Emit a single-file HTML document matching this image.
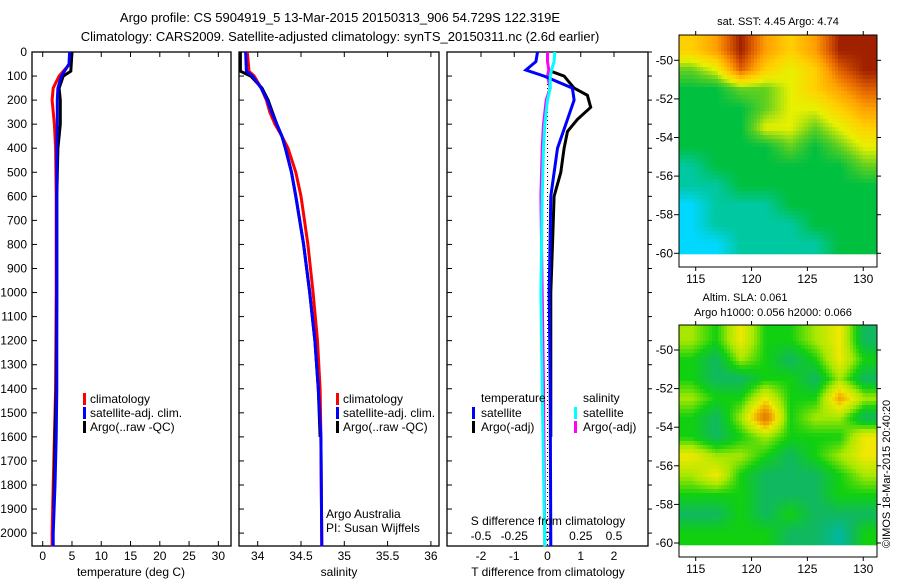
<!DOCTYPE html>
<html><head><meta charset="utf-8"><style>
body{margin:0;background:#fff;}
svg{display:block;font-family:"Liberation Sans",sans-serif;}
</style></head><body>
<svg id="fig" width="900" height="580" viewBox="0 0 900 580">
<text x="340" y="22" font-size="13" text-anchor="middle">Argo profile: CS 5904919_5 13-Mar-2015 20150313_906 54.729S 122.319E</text>
<text x="340" y="41" font-size="13" text-anchor="middle">Climatology: CARS2009. Satellite-adjusted climatology: synTS_20150311.nc (2.6d earlier)</text>
<text x="778" y="25" font-size="11" text-anchor="middle">sat. SST: 4.45 Argo: 4.74</text>
<text x="745" y="301" font-size="11" text-anchor="middle">Altim. SLA: 0.061</text>
<text x="773" y="316" font-size="11" text-anchor="middle">Argo h1000: 0.056 h2000: 0.066</text>
<text transform="translate(890,548) rotate(-90)" font-size="11">©IMOS 18-Mar-2015 20:40:20</text>
<g id="plots"></g>
</svg>
<script>
// ---- data ----
const tDepth = [0,50,100,150,200,300,400,600,1000,1400,1600,1800,2000,2055];
const tClim  = [4.8,4.6,2.8,1.8,1.6,2.0,2.2,2.3,2.3,2.2,2.0,1.8,1.6,1.6];
const tSat   = [4.6,4.5,3.2,2.6,2.5,2.5,2.4,2.4,2.4,2.4,2.3,2.1,1.8,1.8];
const aDepth = [0,80,100,150,200,300,400,600,1000,1400,1600,1900];
const tArgo  = [5.0,4.8,3.5,2.8,3.0,3.0,2.6,2.4,2.4,2.3,2.1,1.9];
const sDepth = [0,80,100,150,200,250,300,350,400,500,600,800,1000,1200,1400,1600,2055];
const sClim  = [33.88,33.9,33.96,34.04,34.1,34.14,34.2,34.28,34.35,34.44,34.5,34.58,34.64,34.69,34.72,34.73,34.74];
const sSat   = [33.86,33.87,33.94,34.04,34.11,34.16,34.22,34.28,34.32,34.39,34.44,34.53,34.6,34.66,34.7,34.73,34.74];
const sArgo  = [33.8,33.8,33.92,34.05,34.12,34.17,34.22,34.28,34.32,34.39,34.44,34.53,34.6,34.66,34.7,34.72];
const dDepth = [0,40,75,100,150,200,300,400,600,1000,1400,2055];
const dTSat  = [-0.3,-0.35,-0.65,-0.1,0.75,0.8,0.55,0.3,0.1,0.05,0.08,0.1];
const dDepthA= [80,100,150,180,230,280,330,400,500,600,800,1000,1600];
const dTArgo = [0.1,0.5,0.8,1.2,1.3,0.9,0.6,0.5,0.4,0.2,0.15,0.1,0.1];
const dSSat  = [0.055,0.05,0.03,0.02,0.02,0.0,-0.02,-0.03,-0.04,-0.05,-0.04,-0.02];
const dSArgo = [0.0,0.0,0.01,0.0,0.02,-0.01,-0.03,-0.04,-0.05,-0.04,-0.03,-0.02];
const depthTicks = [0,100,200,300,400,500,600,700,800,900,1000,1100,1200,1300,1400,1500,1600,1700,1800,1900,2000];
const tTicks = [0,5,10,15,20,25,30];
const sTicks = [34,34.5,35,35.5,36];
const sTickLabels = ["34","34.5","35","35.5","36"];
const dTTicks = [-2,-1,0,1,2];
const dSTicks = [-0.5,-0.25,0,0.25,0.5];
const dSTickLabels = ["-0.5","-0.25","0","0.25","0.5"];
const latTicks = [-50,-52,-54,-56,-58,-60];
const lonTicks = [115,120,125,130];
const sstGrid = [
 [7,8,10,8,7,8,10,10],[5,6,9,7,6,7,9,10],[4,4,5,5,6,7,8,9],[4,4,4,5,6,6,7,8],
 [4,4,4,6,6,5,6,7],[4,4,4,4,5,4,5,6],[3,4,4,4,4,4,4,5],[3,3,4,4,4,4,4,4],
 [2,3,3,3,4,4,4,4],[2,3,3,3,3,4,4,4],[2,2,3,3,3,3,4,4]];
const slaGrid = [
 [3,2,4,2,2,3,4,1],[2,1,3,2,1,2,4,2],[2,1,1,2,2,1,3,1],[3,2,2,4,2,2,5,3],
 [2,1,3,6,2,3,3,1],[2,1,2,3,2,2,2,4],[4,3,3,2,1,2,3,4],[3,4,2,1,1,1,2,3],
 [2,2,2,1,1,1,2,2],[1,1,2,1,2,1,1,1],[2,2,2,2,1,1,0,2]];
// ---- helpers ----
const NS="http://www.w3.org/2000/svg";
const root=document.getElementById('plots');
function mk(tag,attrs,parent){const e=document.createElementNS(NS,tag);for(const k in attrs)e.setAttribute(k,attrs[k]);(parent||root).appendChild(e);return e;}
const yD = d => 52 + d*0.24055;
const xT = v => 42.7 + v*5.855;
const xS = v => 257.7 + (v-34)*86.6;
const xDT = v => 547.5 + v*33.25;
const xDS = v => 547.5 + v*133;
function line(xs,ys,fx,col,name,w){
  const pts=xs.map((v,i)=>fx(v).toFixed(1)+','+yD(ys[i]).toFixed(1)).join(' ');
  const p=mk('polyline',{points:pts,fill:'none',stroke:col,'stroke-width':w||3});
  
  
}
function text(x,y,s,anchor,name,size){
  const t=mk('text',{x:x,y:y,'font-size':size||12,'text-anchor':anchor||'start'});
  t.textContent=s;
  
  
}
function frame(x0,x1,name){
  const r=mk('rect',{x:x0,y:52,width:x1-x0,height:494,fill:'none',stroke:'#000','stroke-width':1.3});
  
  
}
depthTicks.forEach(d=>{text(27,yD(d)+4,String(d),'end','depth-tick-label');
  [32,239,447].forEach(x0=>mk('line',{x1:x0,x2:x0+5,y1:yD(d),y2:yD(d),stroke:'#000'}));
  mk('line',{x1:648,x2:652,y1:yD(d),y2:yD(d),stroke:'#000'});});
// panel 1
frame(32,231,'temperature-panel');
tTicks.forEach(v=>{mk('line',{x1:xT(v),x2:xT(v),y1:52,y2:57,stroke:'#000'});mk('line',{x1:xT(v),x2:xT(v),y1:546,y2:541,stroke:'#000'});text(xT(v),560,String(v),'middle','temperature-tick-label');});
line(tClim,tDepth,xT,'#ff0000','temp-climatology-line');
line(tArgo,aDepth,xT,'#000000','temp-argo-line');
line(tSat,tDepth,xT,'#0000ff','temp-satellite-line');
text(131,576,'temperature (deg C)','middle','temperature-axis-title');
[['#ff0000','climatology'],['#0000ff','satellite-adj. clim.'],['#000000','Argo(..raw -QC)']].forEach((l,i)=>{
  mk('rect',{x:83,y:393+i*14,width:3,height:12,fill:l[0]});text(90,403+i*14,l[1],'start','temp-legend-entry');
  mk('rect',{x:336,y:393+i*14,width:3,height:12,fill:l[0]});text(343,403+i*14,l[1],'start','salinity-legend-entry');});
// panel 2
frame(239,439,'salinity-panel');
sTicks.forEach((v,i)=>{mk('line',{x1:xS(v),x2:xS(v),y1:52,y2:57,stroke:'#000'});mk('line',{x1:xS(v),x2:xS(v),y1:546,y2:541,stroke:'#000'});text(xS(v),560,sTickLabels[i],'middle','salinity-tick-label');});
line(sClim,sDepth,xS,'#ff0000','sal-climatology-line');
line(sArgo,sDepth.slice(0,sArgo.length),xS,'#000000','sal-argo-line');
line(sSat,sDepth,xS,'#0000ff','sal-satellite-line');
text(339,576,'salinity','middle','salinity-axis-title');
text(326,518,'Argo Australia','start','credit-line-1');
text(326,532,'PI: Susan Wijffels','start','credit-line-2');
// panel 3
frame(447,648,'difference-panel');
dTTicks.forEach(v=>{mk('line',{x1:xDT(v),x2:xDT(v),y1:52,y2:57,stroke:'#000'});text(xDT(v),560,String(v),'middle','t-diff-tick-label');});
dSTicks.forEach((v,i)=>text(xDS(v),540,dSTickLabels[i],'middle','s-diff-tick-label'));
mk('line',{x1:547.5,x2:547.5,y1:52,y2:546,stroke:'#000','stroke-dasharray':'1,3'});
line(dSArgo,dDepth,xDS,'#ff00ff','s-diff-argo-line');
line(dTArgo,dDepthA,xDT,'#000000','t-diff-argo-line');
line(dTSat,dDepth,xDT,'#0000ff','t-diff-satellite-line');
line(dSSat,dDepth,xDS,'#00ffff','s-diff-satellite-line');
text(548,525,'S difference from climatology','middle','s-diff-axis-title');
text(548,576,'T difference from climatology','middle','t-diff-axis-title');
text(481,402,'temperature','start','diff-legend-temperature');
text(583,402,'salinity','start','diff-legend-salinity');
[['#0000ff','satellite',472,481],['#000000','Argo(-adj)',472,481],['#00ffff','satellite',574,583],['#ff00ff','Argo(-adj)',574,583]].forEach((l,i)=>{
  const r=i%2; mk('rect',{x:l[2],y:407+r*14,width:3,height:12,fill:l[0]});text(l[3],417+r*14,l[1],'start','diff-legend-entry');});
// maps
const lonX = v => 695.7 + (v-115)*11.17;
const sstStops=[[0,0,160],[0,144,255],[0,216,255],[0,200,160],[0,192,64],[96,208,32],[232,240,0],[255,208,0],[255,160,0],[224,96,0],[160,32,0]];
const slaStops=[[0,184,160],[16,184,96],[16,208,16],[168,232,0],[240,232,0],[240,160,0],[224,112,0]];
function cmap(stops,v){
  v=Math.max(0,Math.min(stops.length-1,v));
  const i=Math.min(stops.length-2,Math.floor(v)),f=v-i;
  const c=stops[i].map((a,k)=>Math.round(a+(stops[i+1][k]-a)*f));
  return 'rgb('+c.join(',')+')';
}
function sample(grid,r,c){
  const R=grid.length,C=grid[0].length;
  r=Math.max(0,Math.min(R-1,r));c=Math.max(0,Math.min(C-1,c));
  const r0=Math.floor(r),c0=Math.floor(c),r1=Math.min(R-1,r0+1),c1=Math.min(C-1,c0+1);
  const fr=r-r0,fc=c-c0;
  return grid[r0][c0]*(1-fr)*(1-fc)+grid[r0][c1]*(1-fr)*fc+grid[r1][c0]*fr*(1-fc)+grid[r1][c1]*fr*fc;
}
function map(grid,stops,top,y50,dataBottom,axisBottom,name){
  const ppd=19.3;
  const nc=grid[0].length, w=(877-679)/nc;
  const cw=3, ch=4;
  for(let y=top;y<dataBottom;y+=ch){
    for(let x=679;x<877;x+=cw){
      const rr=(y+ch/2-(y50-ppd))/ppd-0.5;
      const cc=(x+cw/2-679)/w-0.5;
      const v=sample(grid,rr,cc);
      const cell=mk('rect',{x:x,y:y,width:Math.min(cw,877-x)+0.3,height:Math.min(ch,dataBottom-y)+0.3,fill:cmap(stops,v)});
      
      
    }
  }
  const f=mk('rect',{x:679,y:top,width:198,height:axisBottom-top,fill:'none',stroke:'#000'});
  
  
  latTicks.forEach(v=>{const y=y50+(-50-v)*ppd;mk('line',{x1:674,x2:679,y1:y,y2:y,stroke:'#000'});mk('line',{x1:877,x2:881,y1:y,y2:y,stroke:'#000'});text(673,y+4,String(v),'end',name+'-lat-label');});
  lonTicks.forEach(v=>{mk('line',{x1:lonX(v),x2:lonX(v),y1:axisBottom,y2:axisBottom+4,stroke:'#000'});mk('line',{x1:lonX(v),x2:lonX(v),y1:top-4,y2:top,stroke:'#000'});text(lonX(v),axisBottom+16,String(v),'middle',name+'-lon-label');});
}
map(sstGrid,sstStops,35,60.3,254,267,'sst-map');
map(slaGrid,slaStops,325,350,545,557,'sla-map');
</script>
</body></html>
